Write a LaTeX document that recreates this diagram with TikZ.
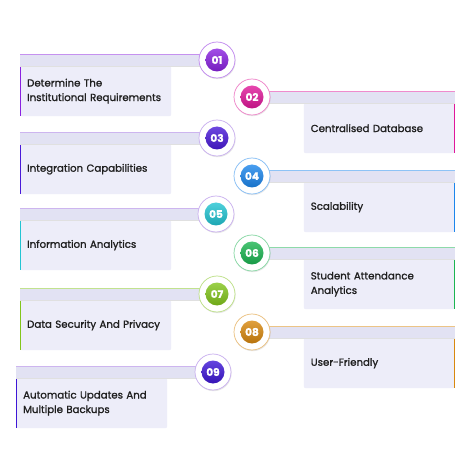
\documentclass[tikz,border=0pt]{standalone}
\usepackage{fontspec}
\setmainfont{Poppins}[FakeBold=1.3]
\usetikzlibrary{shadows}

\definecolor{boxfill}{HTML}{EDEDF9}
\definecolor{barfill}{HTML}{E2E2F3}
\definecolor{cA}{HTML}{8A22E0}
\definecolor{cB}{HTML}{E0189A}
\definecolor{cC}{HTML}{4A1AD8}
\definecolor{cD}{HTML}{1C86EC}
\definecolor{cE}{HTML}{22C4D2}
\definecolor{cF}{HTML}{1CB552}
\definecolor{cG}{HTML}{82C51C}
\definecolor{cH}{HTML}{D8880E}
\definecolor{cI}{HTML}{3E16D6}
\definecolor{ringP}{HTML}{9A6AE0}

\begin{document}
\begin{tikzpicture}[x=1pt,y=-1pt,
    itembox/.style={fill=boxfill,rounded corners=2pt,minimum height=50pt,text width=137pt,
        inner sep=7pt,align=left,font=\fontsize{10.2}{14.5}\selectfont,text=black!88},
    ringnode/.style={circle,fill=white,minimum size=36pt,inner sep=0pt,line width=0.7pt,
        drop shadow={opacity=0.18,shadow xshift=0.6pt,shadow yshift=-1.2pt}},
    numdisc/.style={circle,minimum size=23pt,inner sep=0pt,text=white,
        font=\bfseries\fontsize{10.5}{10.5}\selectfont}]
    \useasboundingbox[fill=white] (0,0) rectangle (474,465);
    % left column
    \foreach \n/\cx/\lx/\cy/\col/\rc/\txt in {01/217/20/60/cA/cA/{Determine The\\Institutional Requirements},
        03/217/20/138/cC/ringP/{Integration Capabilities},
        05/216/20/214/cE/ringP/{Information Analytics},
        07/217/20/294/cG/cG/{Data Security And Privacy},
        09/213/16/372/cI/ringP/{Automatic Updates And\\Multiple Backups}} {
        \coordinate (c\n) at (\cx,\cy);
        \node[itembox,anchor=north west] (b\n) at (\lx,\cy+6) {\txt};
        \draw[\col,line width=1.2pt] ([xshift=0.6pt,yshift=-1pt]b\n.north west) -- ([xshift=0.6pt]b\n.south west);
        \fill[barfill] (b\n.north west) rectangle ([yshift=6pt]c\n);
        \draw[black!12,line width=1pt] ([yshift=-0.5pt]b\n.north west) -- ([yshift=-6.5pt]c\n);
        \draw[\rc!50,line width=0.5pt] ([yshift=6pt]b\n.west |- c\n) -- ([yshift=6pt]c\n);
        \node[ringnode,draw=\rc!55] (r\n) at (c\n) {};
        \node[numdisc,top color=\col!80!white,bottom color=\col!85!black] (d\n) at (c\n) {\n};
    }
    % right column
    \foreach \n/\cy/\col/\rc/\txt in {02/97/cB/cB/{Centralised Database},
        04/176/cD/cD/{Scalability},
        06/253/cF/cF/{Student Attendance\\Analytics},
        08/332/cH/cH/{User-Friendly}} {
        \coordinate (c\n) at (252,\cy);
        \node[itembox,anchor=north east] (b\n) at (455,\cy+6) {\txt};
        \draw[\col,line width=1.2pt] ([xshift=-0.6pt,yshift=-1pt]b\n.north east) -- ([xshift=-0.6pt]b\n.south east);
        \fill[barfill] (b\n.north east) rectangle ([yshift=6pt]c\n);
        \draw[black!12,line width=1pt] ([yshift=-0.5pt]b\n.north east) -- ([yshift=-6.5pt]c\n);
        \draw[\rc!50,line width=0.5pt] ([yshift=6pt]c\n) -- ([yshift=6pt]b\n.east |- c\n);
        \node[ringnode,draw=\rc!55] (r\n) at (c\n) {};
        \node[numdisc,top color=\col!80!white,bottom color=\col!85!black] (d\n) at (c\n) {\n};
    }
\end{tikzpicture}
\end{document}
